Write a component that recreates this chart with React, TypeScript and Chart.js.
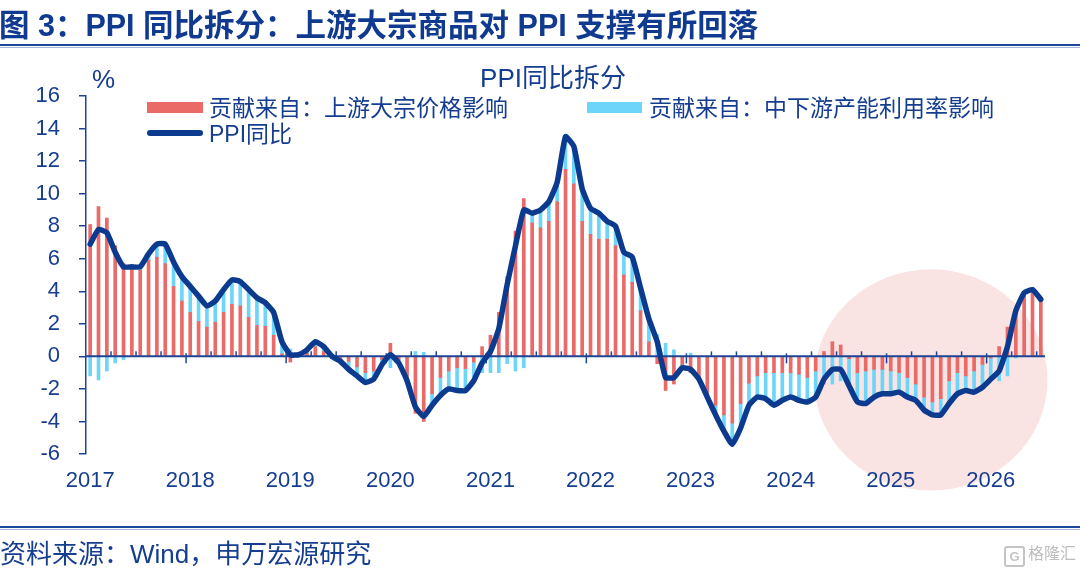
import React, { useEffect, useRef } from 'react';
import { Chart, registerables } from 'chart.js';

Chart.register(...registerables);

// ---------- data ----------
const YEARS = ['2017', '2018', '2019', '2020', '2021', '2022', '2023', '2024', '2025', '2026'];
const MONTHS = ['01', '02', '03', '04', '05', '06', '07', '08', '09', '10', '11', '12'];

// PPI 同比 (%)
const PPI_YOY = [
  6.9, 7.8, 7.6, 6.4, 5.5, 5.5, 5.5, 6.3, 6.9, 6.9, 5.8, 4.9,
  4.3, 3.7, 3.1, 3.4, 4.1, 4.7, 4.6, 4.1, 3.6, 3.3, 2.7, 0.9,
  0.1, 0.1, 0.4, 0.9, 0.6, 0.0, -0.3, -0.8, -1.2, -1.6, -1.4, -0.5,
  0.1, -0.4, -1.5, -3.1, -3.7, -3.0, -2.4, -2.0, -2.1, -2.1, -1.5, -0.4,
  0.3, 1.7, 4.4, 6.8, 9.0, 8.8, 9.0, 9.5, 10.7, 13.5, 12.9, 10.3,
  9.1, 8.8, 8.3, 8.0, 6.4, 6.1, 4.2, 2.3, 0.9, -1.3, -1.3, -0.7,
  -0.8, -1.4, -2.5, -3.6, -4.6, -5.4, -4.4, -3.0, -2.5, -2.6, -3.0, -2.7,
  -2.5, -2.7, -2.8, -2.5, -1.4, -0.8, -0.8, -1.8, -2.8, -2.9, -2.5, -2.3,
  -2.3, -2.2, -2.5, -2.7, -3.3, -3.6, -3.6, -2.9, -2.3, -2.1, -2.2, -1.9,
  -1.4, -0.9, 0.6, 2.8, 3.9, 4.1, 3.5,
];

// 贡献来自：上游大宗价格影响
const UPSTREAM = [
  8.1, 9.2, 8.5, 6.8, 5.7, 5.4, 5.3, 5.9, 6.1, 5.7, 4.3, 3.4,
  2.7, 2.15, 1.8, 2.1, 2.7, 3.2, 3.1, 2.4, 1.9, 1.85, 1.3, 0.15,
  -0.35, 0.05, 0.2, 0.6, 0.3, 0.1, -0.2, -0.3, -0.65, -1.0, -0.9, -0.2,
  0.8, -0.2, -1.3, -3.5, -4.0, -2.3, -1.3, -0.9, -0.7, -0.75, -0.35, 0.6,
  1.3, 2.7, 4.9, 7.7, 9.7, 8.2, 7.9, 8.3, 9.5, 11.5, 10.6, 8.3,
  7.5, 7.2, 7.2, 6.8, 5.0, 4.55, 2.8, 0.9, -0.45, -2.1, -1.7, -0.5,
  -1.0, -1.3, -2.4, -3.0, -3.6, -4.1, -2.9, -1.65, -1.2, -1.0, -1.0, -1.0,
  -1.0, -1.1, -1.3, -0.9, 0.3, 0.9, 0.7, -0.15, -1.0, -0.9, -0.8, -0.8,
  -0.9, -1.0, -1.3, -1.7, -2.5, -2.8, -2.6, -1.5, -1.0, -1.2, -0.9, -0.5,
  -0.1, 0.6, 1.8, 2.9, 3.8, 4.0, 3.4,
];

// 贡献来自：中下游产能利用率影响
const DOWNSTREAM = [
  -1.2, -1.45, -0.9, -0.4, -0.2, 0.1, 0.2, 0.4, 0.8, 1.2, 1.5, 1.5,
  1.6, 1.55, 1.3, 1.3, 1.4, 1.5, 1.5, 1.7, 1.7, 1.45, 1.4, 0.75,
  0.45, 0.05, 0.2, 0.3, 0.3, -0.1, -0.1, -0.5, -0.55, -0.6, -0.5, -0.3,
  -0.7, -0.2, -0.2, 0.3, 0.25, -0.7, -1.1, -1.1, -1.4, -1.35, -1.15, -1.0,
  -1.0, -1.0, -0.45, -0.9, -0.7, 0.6, 1.1, 1.2, 1.2, 2.0, 2.3, 2.0,
  1.6, 1.6, 1.1, 1.2, 1.4, 1.55, 1.4, 1.4, 1.35, 0.8, 0.4, -0.2,
  0.2, -0.1, -0.1, -0.6, -1.0, -1.3, -1.5, -1.35, -1.3, -1.6, -2.0, -1.7,
  -1.5, -1.6, -1.5, -1.6, -1.7, -1.7, -1.5, -1.65, -1.8, -2.0, -1.7, -1.5,
  -1.4, -1.2, -1.2, -1.0, -0.8, -0.8, -1.0, -1.4, -1.3, -0.9, -1.3, -1.3,
  -1.3, -1.5, -1.2, -0.1, 0.1, 0.1, 0.1,
];

const CATEGORIES = YEARS.flatMap((y) => MONTHS.map((m) => `${y}-${m}`)).slice(0, PPI_YOY.length);

const SERIES_NAMES = ['贡献来自：上游大宗价格影响', '贡献来自：中下游产能利用率影响', 'PPI同比'];
const Y_MIN = -6;
const Y_MAX = 16;
const Y_STEP = 2;

// highlight ellipse (anchored to the scales)
const HL_CENTER_INDEX = 100.8;
const HL_CENTER_VALUE = -1.45;
const HL_RADIUS_CATEGORIES = 14;
const HL_RADIUS_VALUE = 6.8;

// ---------- style ----------
const FONT = '"Liberation Sans", Arial, "Noto Sans CJK SC", sans-serif';
const TEXT = '#163E90';
const AXIS = '#1E4496';
const LINE = '#0B3A8E';
const RED = '#E96A67';
const BLUE = '#6CD5F9';
const PINK = '#F9E3E3';

const decorPlugin = {
  id: 'decor',
  beforeDraw(chart: any) {
    const { ctx } = chart;
    const x = chart.scales.x;
    const y = chart.scales.y;
    const cx = x.getPixelForValue(HL_CENTER_INDEX);
    const cy = y.getPixelForValue(HL_CENTER_VALUE);
    const rx = x.getPixelForValue(HL_RADIUS_CATEGORIES) - x.getPixelForValue(0);
    const ry = y.getPixelForValue(0) - y.getPixelForValue(HL_RADIUS_VALUE);
    ctx.save();
    ctx.fillStyle = PINK;
    ctx.beginPath();
    ctx.ellipse(cx, cy, rx, ry, 0, 0, Math.PI * 2);
    ctx.fill();
    ctx.restore();
  },
  afterDatasetDraw(chart: any, args: any) {
    if (args.index !== 1) return;
    const { ctx, chartArea } = chart;
    const x = chart.scales.x;
    const y = chart.scales.y;
    const y0 = y.getPixelForValue(0);
    const step = x.getPixelForValue(1) - x.getPixelForValue(0);
    ctx.save();
    ctx.strokeStyle = AXIS;
    ctx.lineWidth = 2;
    ctx.beginPath();
    ctx.moveTo(chartArea.left, y0);
    ctx.lineTo(chartArea.right, y0);
    ctx.stroke();
    ctx.lineWidth = 1.5;
    for (let i = 3; i < CATEGORIES.length; i += 3) {
      const px = x.getPixelForValue(i) - step / 2;
      const major = i % 12 === 0;
      ctx.beginPath();
      ctx.moveTo(px, major ? y0 - 3 : y0);
      ctx.lineTo(px, major ? y0 + 7 : y0 - 5);
      ctx.stroke();
    }
    ctx.restore();
  },
};

const abs = (left: number, top: number, size: number, extra: any = {}) => ({
  position: 'absolute' as const,
  left,
  top,
  fontSize: size,
  lineHeight: 1,
  whiteSpace: 'nowrap' as const,
  color: TEXT,
  ...extra,
});

export default function App() {
  const canvasRef = useRef<HTMLCanvasElement | null>(null);

  useEffect(() => {
    if (!canvasRef.current) return;
    Chart.defaults.font.family = FONT;
    const chart = new Chart(canvasRef.current, {
      type: 'bar',
      data: {
        labels: CATEGORIES,
        datasets: [
          {
            type: 'line',
            label: SERIES_NAMES[2],
            data: PPI_YOY,
            borderColor: LINE,
            backgroundColor: LINE,
            borderWidth: 5.5,
            pointRadius: 0,
            tension: 0.15,
            borderJoinStyle: 'round',
            borderCapStyle: 'round',
            fill: false,
            stack: 'ppi',
            order: 0,
          } as any,
          {
            type: 'bar',
            label: SERIES_NAMES[0],
            data: UPSTREAM,
            backgroundColor: RED,
            borderWidth: 0,
            barThickness: 3,
            stack: 'contrib',
            order: 1,
          },
          {
            type: 'bar',
            label: SERIES_NAMES[1],
            data: DOWNSTREAM,
            backgroundColor: BLUE,
            borderWidth: 0,
            barThickness: 3,
            stack: 'contrib',
            order: 2,
          },
        ],
      },
      options: {
        responsive: false,
        maintainAspectRatio: false,
        animation: false,
        events: [],
        layout: { padding: { top: 96, right: 35, left: 0, bottom: 0 } },
        plugins: {
          legend: { display: false },
          title: { display: false },
          tooltip: { enabled: false },
        },
        scales: {
          x: {
            type: 'category',
            stacked: true,
            offset: true,
            grid: { display: false, drawTicks: false },
            border: { display: false },
            ticks: {
              autoSkip: false,
              maxRotation: 0,
              minRotation: 0,
              padding: 14,
              color: TEXT,
              font: { size: 22, family: FONT },
              callback: (_v: any, i: number) =>
                CATEGORIES[i].endsWith('-01') ? CATEGORIES[i].slice(0, 4) : '',
            },
            afterFit: (s: any) => {
              s.height = 119;
            },
          },
          y: {
            stacked: true,
            min: Y_MIN,
            max: Y_MAX,
            ticks: {
              stepSize: Y_STEP,
              padding: 19,
              color: TEXT,
              font: { size: 22, family: FONT },
            },
            grid: {
              drawOnChartArea: false,
              drawTicks: true,
              tickLength: 7,
              color: AXIS,
              lineWidth: 1.5,
            },
            border: { display: true, color: AXIS, width: 1.5 },
            afterFit: (s: any) => {
              s.width = 86;
            },
          },
        },
      } as any,
      plugins: [decorPlugin],
    });
    return () => chart.destroy();
  }, []);

  return (
    <div
      style={{
        position: 'absolute',
        left: 0,
        top: 0,
        width: 1080,
        height: 573,
        background: '#fff',
        overflow: 'hidden',
        fontFamily: FONT,
      }}
    >
      <canvas ref={canvasRef} width={1080} height={573} style={{ position: 'absolute', left: 0, top: 0, width: 1080, height: 573 }} />

      {/* report title */}
      <div style={abs(-1, 10, 30.5, { fontWeight: 'bold', color: '#0F3A8F' })}>
        图 3：PPI 同比拆分：上游大宗商品对 PPI 支撑有所回落
      </div>
      <div style={{ position: 'absolute', left: 0, top: 44, width: 1080, height: 2, background: '#1B4A9C' }} />
      <div style={{ position: 'absolute', left: 0, top: 46.5, width: 1080, height: 1.5, background: '#A3B7DE' }} />

      {/* chart title */}
      <div style={abs(553, 65, 26, { transform: 'translateX(-50%)' })}>PPI同比拆分</div>

      {/* unit */}
      <div style={abs(92, 66, 26)}>%</div>

      {/* legend */}
      <div style={{ position: 'absolute', left: 147, top: 102, width: 56, height: 11, background: RED }} />
      <div style={abs(209, 97, 23)}>{SERIES_NAMES[0]}</div>
      <div style={{ position: 'absolute', left: 587, top: 102, width: 55, height: 11, background: BLUE }} />
      <div style={abs(649, 97, 23)}>{SERIES_NAMES[1]}</div>
      <div style={{ position: 'absolute', left: 147, top: 130, width: 56, height: 6, borderRadius: 3, background: LINE }} />
      <div style={abs(209, 123, 23)}>{SERIES_NAMES[2]}</div>

      {/* footer */}
      <div style={{ position: 'absolute', left: 0, top: 526, width: 1080, height: 2, background: '#1B4A9C' }} />
      <div style={{ position: 'absolute', left: 0, top: 528.5, width: 1080, height: 1.2, background: '#A3B7DE' }} />
      <div style={abs(0, 541, 26)}>资料来源：Wind，申万宏源研究</div>

      {/* watermark */}
      <div
        style={{
          position: 'absolute',
          left: 1004,
          top: 546,
          width: 17,
          height: 17,
          border: '2px solid #C4C4C4',
          borderRadius: 3,
          color: '#C4C4C4',
          fontSize: 13,
          lineHeight: '17px',
          textAlign: 'center',
          fontWeight: 'bold',
        }}
      >
        G
      </div>
      <div style={abs(1028, 546, 16, { color: '#BDBDBD' })}>格隆汇</div>
    </div>
  );
}
